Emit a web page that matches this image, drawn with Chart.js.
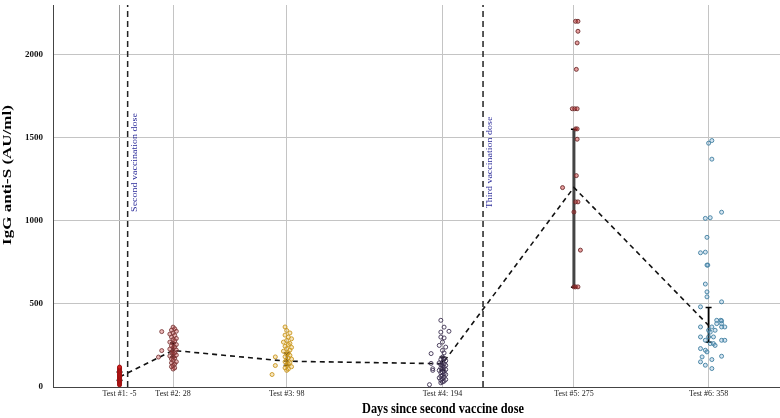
<!DOCTYPE html>
<html>
<head>
<meta charset="utf-8">
<script src="https://cdn.jsdelivr.net/npm/chart.js@4.4.1/dist/chart.umd.min.js"></script>
<style>
  body { margin: 0; background: #fff; }
  canvas { display: block; }
</style>
</head>
<body>
<canvas id="chart" width="780" height="418"></canvas>
<script>
// test days and labels
const testDays = [-5, 28, 98, 194, 275, 358];
const testLabels = ["Test #1: -5", "Test #2: 28", "Test #3: 98", "Test #4: 194", "Test #5: 275", "Test #6: 358"];
const meanValues = [60, 220, 155, 140, 1200, 370];
const errLow = [40, 180, 130, 100, 600, 270];
const errHigh = [90, 265, 205, 180, 1550, 478];
const yTicks = [0, 500, 1000, 1500, 2000];

const doseDays = [0, 219];
const doseLabels = ["Second vaccination dose", "Third vaccination dose"];

const xTitle = "Days since second vaccine dose";
const yTitle = "IgG anti-S (AU/ml)";

// individual results (x = day incl. jitter, y = IgG)
const test1X = [-5, -5, -5, -5, -5, -5, -5, -5, -5, -5, -5, -5, -5, -5, -5, -5, -5, -5, -5, -5, -5, -5, -5];
const test1Y = [12, 18, 22, 28, 33, 38, 42, 47, 52, 56, 60, 64, 68, 72, 77, 82, 88, 93, 98, 104, 110, 115, 120];

const test2X = [28, 29, 27, 30, 28, 26, 29, 27, 30, 28, 29, 26, 28, 30, 27, 29, 28, 26, 30, 28, 27, 29, 28, 30, 26, 28, 29, 27, 28, 30, 27, 29, 28, 27, 29, 28, 21, 21, 19];
const test2Y = [360, 350, 342, 335, 325, 318, 310, 300, 292, 285, 278, 270, 262, 255, 248, 240, 235, 228, 222, 215, 210, 205, 198, 192, 186, 180, 174, 168, 160, 152, 145, 138, 130, 122, 115, 108, 333, 219, 180];

const test3X = [97, 98, 100, 97, 99, 101, 98, 96, 100, 99, 97, 101, 98, 100, 96, 99, 98, 100, 97, 99, 101, 98, 97, 100, 99, 98, 101, 97, 99, 98, 89, 91, 91];
const test3Y = [361, 340, 325, 312, 300, 290, 280, 270, 262, 255, 245, 238, 230, 222, 215, 205, 198, 190, 182, 175, 168, 160, 152, 145, 138, 130, 122, 115, 108, 100, 75, 129, 181];

const test4X = [193, 195, 198, 193, 193, 195, 194, 192, 196, 194, 195, 187, 187, 188, 188, 186,
  194, 195, 193, 196, 194, 192, 195, 193, 196, 194, 195, 193, 194, 196, 192, 195, 194, 193, 195, 196, 194, 193, 195, 192, 194, 196, 193, 195, 194, 193];
const test4Y = [401, 360, 335, 330, 300, 295, 270, 250, 240, 220, 205, 201, 142, 110, 100, 14,
  180, 172, 165, 158, 150, 145, 140, 135, 130, 125, 120, 115, 110, 105, 100, 95, 90, 85, 80, 75, 70, 65, 60, 55, 50, 45, 40, 35, 30, 25];

const test5X = [276, 277.5, 277.5, 277, 276.5, 274, 275.5, 277, 276, 277, 277, 276.5, 268, 276, 277.5, 275, 279, 275, 276, 277.5];
const test5Y = [2199, 2199, 2139, 2069, 1910, 1673, 1673, 1673, 1552, 1552, 1490, 1271, 1199, 1113, 1113, 1052, 823, 602, 602, 602];

const test6X = [358, 360, 360, 366, 356, 359, 357, 353, 356, 357, 357.5, 356, 357, 357, 353, 366,
  363, 365.5, 366, 363, 366, 353, 360, 366, 368, 358, 362, 353, 358, 361, 356, 366, 368, 359, 361, 353, 356, 357, 366, 354, 360, 353, 356, 360, 359, 362];
const test6Y = [1466, 1482, 1370, 1051, 1014, 1018, 900, 807, 811, 733, 733, 619, 572, 542, 482, 512,
  401, 401, 398, 381, 381, 361, 361, 361, 361, 341, 341, 301, 301, 301, 281, 281, 281, 261, 261, 231, 221, 211, 185, 181, 165, 151, 131, 111, 330, 250];

const testX = [test1X, test2X, test3X, test4X, test5X, test6X];
const testY = [test1Y, test2Y, test3Y, test4Y, test5Y, test6Y];
const testBorder = ["#9a1010", "#7a3a3a", "#c8961e", "#3c3050", "#6b2a2a", "#3f7fa0"];
const testFill = ["#d42020", "rgba(200,60,60,0.35)", "rgba(230,170,40,0.3)", "rgba(255,255,255,0)", "rgba(200,40,40,0.45)", "rgba(120,170,210,0.3)"];

const datasets = [];

doseDays.forEach((d) => {
  datasets.push({
    data: [{ x: d, y: 0 }, { x: d, y: 2300 }],
    showLine: true,
    borderColor: "#222",
    borderWidth: 1.5,
    borderDash: [6, 4],
    pointRadius: 0,
  });
});

for (let i = 0; i < testDays.length; i++) {
  datasets.push({
    data: testX[i].map((x, j) => ({ x: x, y: testY[i][j] })),
    pointRadius: 2,
    pointBorderWidth: 0.9,
    borderColor: testBorder[i],
    backgroundColor: testFill[i],
  });
}

datasets.push({
  data: testDays.map((d, i) => ({ x: d, y: meanValues[i] })),
  showLine: true,
  borderColor: "#111",
  borderWidth: 1.6,
  borderDash: [5, 4],
  pointRadius: 0,
});

for (let i = 0; i < testDays.length; i++) {
  datasets.push({
    data: [{ x: testDays[i], y: errLow[i] }, { x: testDays[i], y: errHigh[i] }],
    showLine: true,
    borderColor: i === 4 ? "#444" : "#000",
    borderWidth: i === 4 ? 3 : 1.8,
    pointStyle: "line",
    pointRadius: 3,
    pointBorderWidth: 1.5,
    pointBorderColor: "#000",
  });
}

const labelPlugin = {
  id: "labelPlugin",
  afterDraw(chart) {
    const ctx = chart.ctx;
    const xs = chart.scales.x;
    const ys = chart.scales.y;
    ctx.save();
    ctx.textAlign = "center";
    ctx.textBaseline = "middle";

    // x title
    ctx.save();
    ctx.translate(443, 409);
    ctx.scale(0.82, 1);
    ctx.fillStyle = "#000";
    ctx.font = "bold 15px 'Liberation Serif'";
    ctx.fillText(xTitle, 0, 0);
    ctx.restore();

    // y title
    ctx.save();
    ctx.translate(8, 175);
    ctx.scale(0.78, 1);
    ctx.rotate(-Math.PI / 2);
    ctx.fillStyle = "#000";
    ctx.font = "bold 17px 'Liberation Serif'";
    ctx.fillText(yTitle, 0, 0);
    ctx.restore();

    // dose labels
    doseDays.forEach((d, i) => {
      ctx.save();
      ctx.translate(xs.getPixelForValue(d) + 7, ys.getPixelForValue(1350));
      ctx.scale(0.8, 1);
      ctx.rotate(-Math.PI / 2);
      ctx.fillStyle = "#2b2b9a";
      ctx.font = "10px 'Liberation Serif'";
      ctx.fillText(doseLabels[i], 0, 0);
      ctx.restore();
    });
    ctx.restore();
  },
};

new Chart(document.getElementById("chart"), {
  type: "scatter",
  data: { datasets: datasets },
  options: {
    responsive: false,
    animation: false,
    layout: { autoPadding: false, padding: { top: 5, right: 0, left: 0, bottom: 0 } },
    plugins: {
      legend: { display: false },
      tooltip: { enabled: false },
    },
    scales: {
      x: {
        type: "linear",
        min: -46,
        max: 402,
        afterBuildTicks: (s) => {
          s.ticks = testDays.map((v) => ({ value: v }));
        },
        afterFit: (s) => {
          s.height = 31;
          s.paddingLeft = 0;
          s.paddingRight = 0;
        },
        ticks: {
          autoSkip: false,
          maxRotation: 0,
          padding: 2,
          color: "#1a1a1a",
          font: { family: "'Liberation Serif'", size: 8 },
          callback: (v, i) => testLabels[i],
        },
        grid: {
          color: (c) => (c.index === 0 ? "#9a9a9a" : "#c4c4c4"),
          drawTicks: false,
        },
        border: { color: "#444" },
      },
      y: {
        min: 0,
        max: 2297,
        afterBuildTicks: (s) => {
          s.ticks = yTicks.map((v) => ({ value: v }));
        },
        afterFit: (s) => {
          s.width = 53;
          s.paddingTop = 0;
          s.paddingBottom = 0;
        },
        ticks: {
          padding: 10,
          color: "#111",
          font: { family: "'Liberation Serif'", size: 9, weight: "bold" },
          callback: (v) => String(v),
        },
        grid: { color: "#c4c4c4", drawTicks: false },
        border: { color: "#444" },
      },
    },
  },
  plugins: [labelPlugin],
});
</script>
</body>
</html>
